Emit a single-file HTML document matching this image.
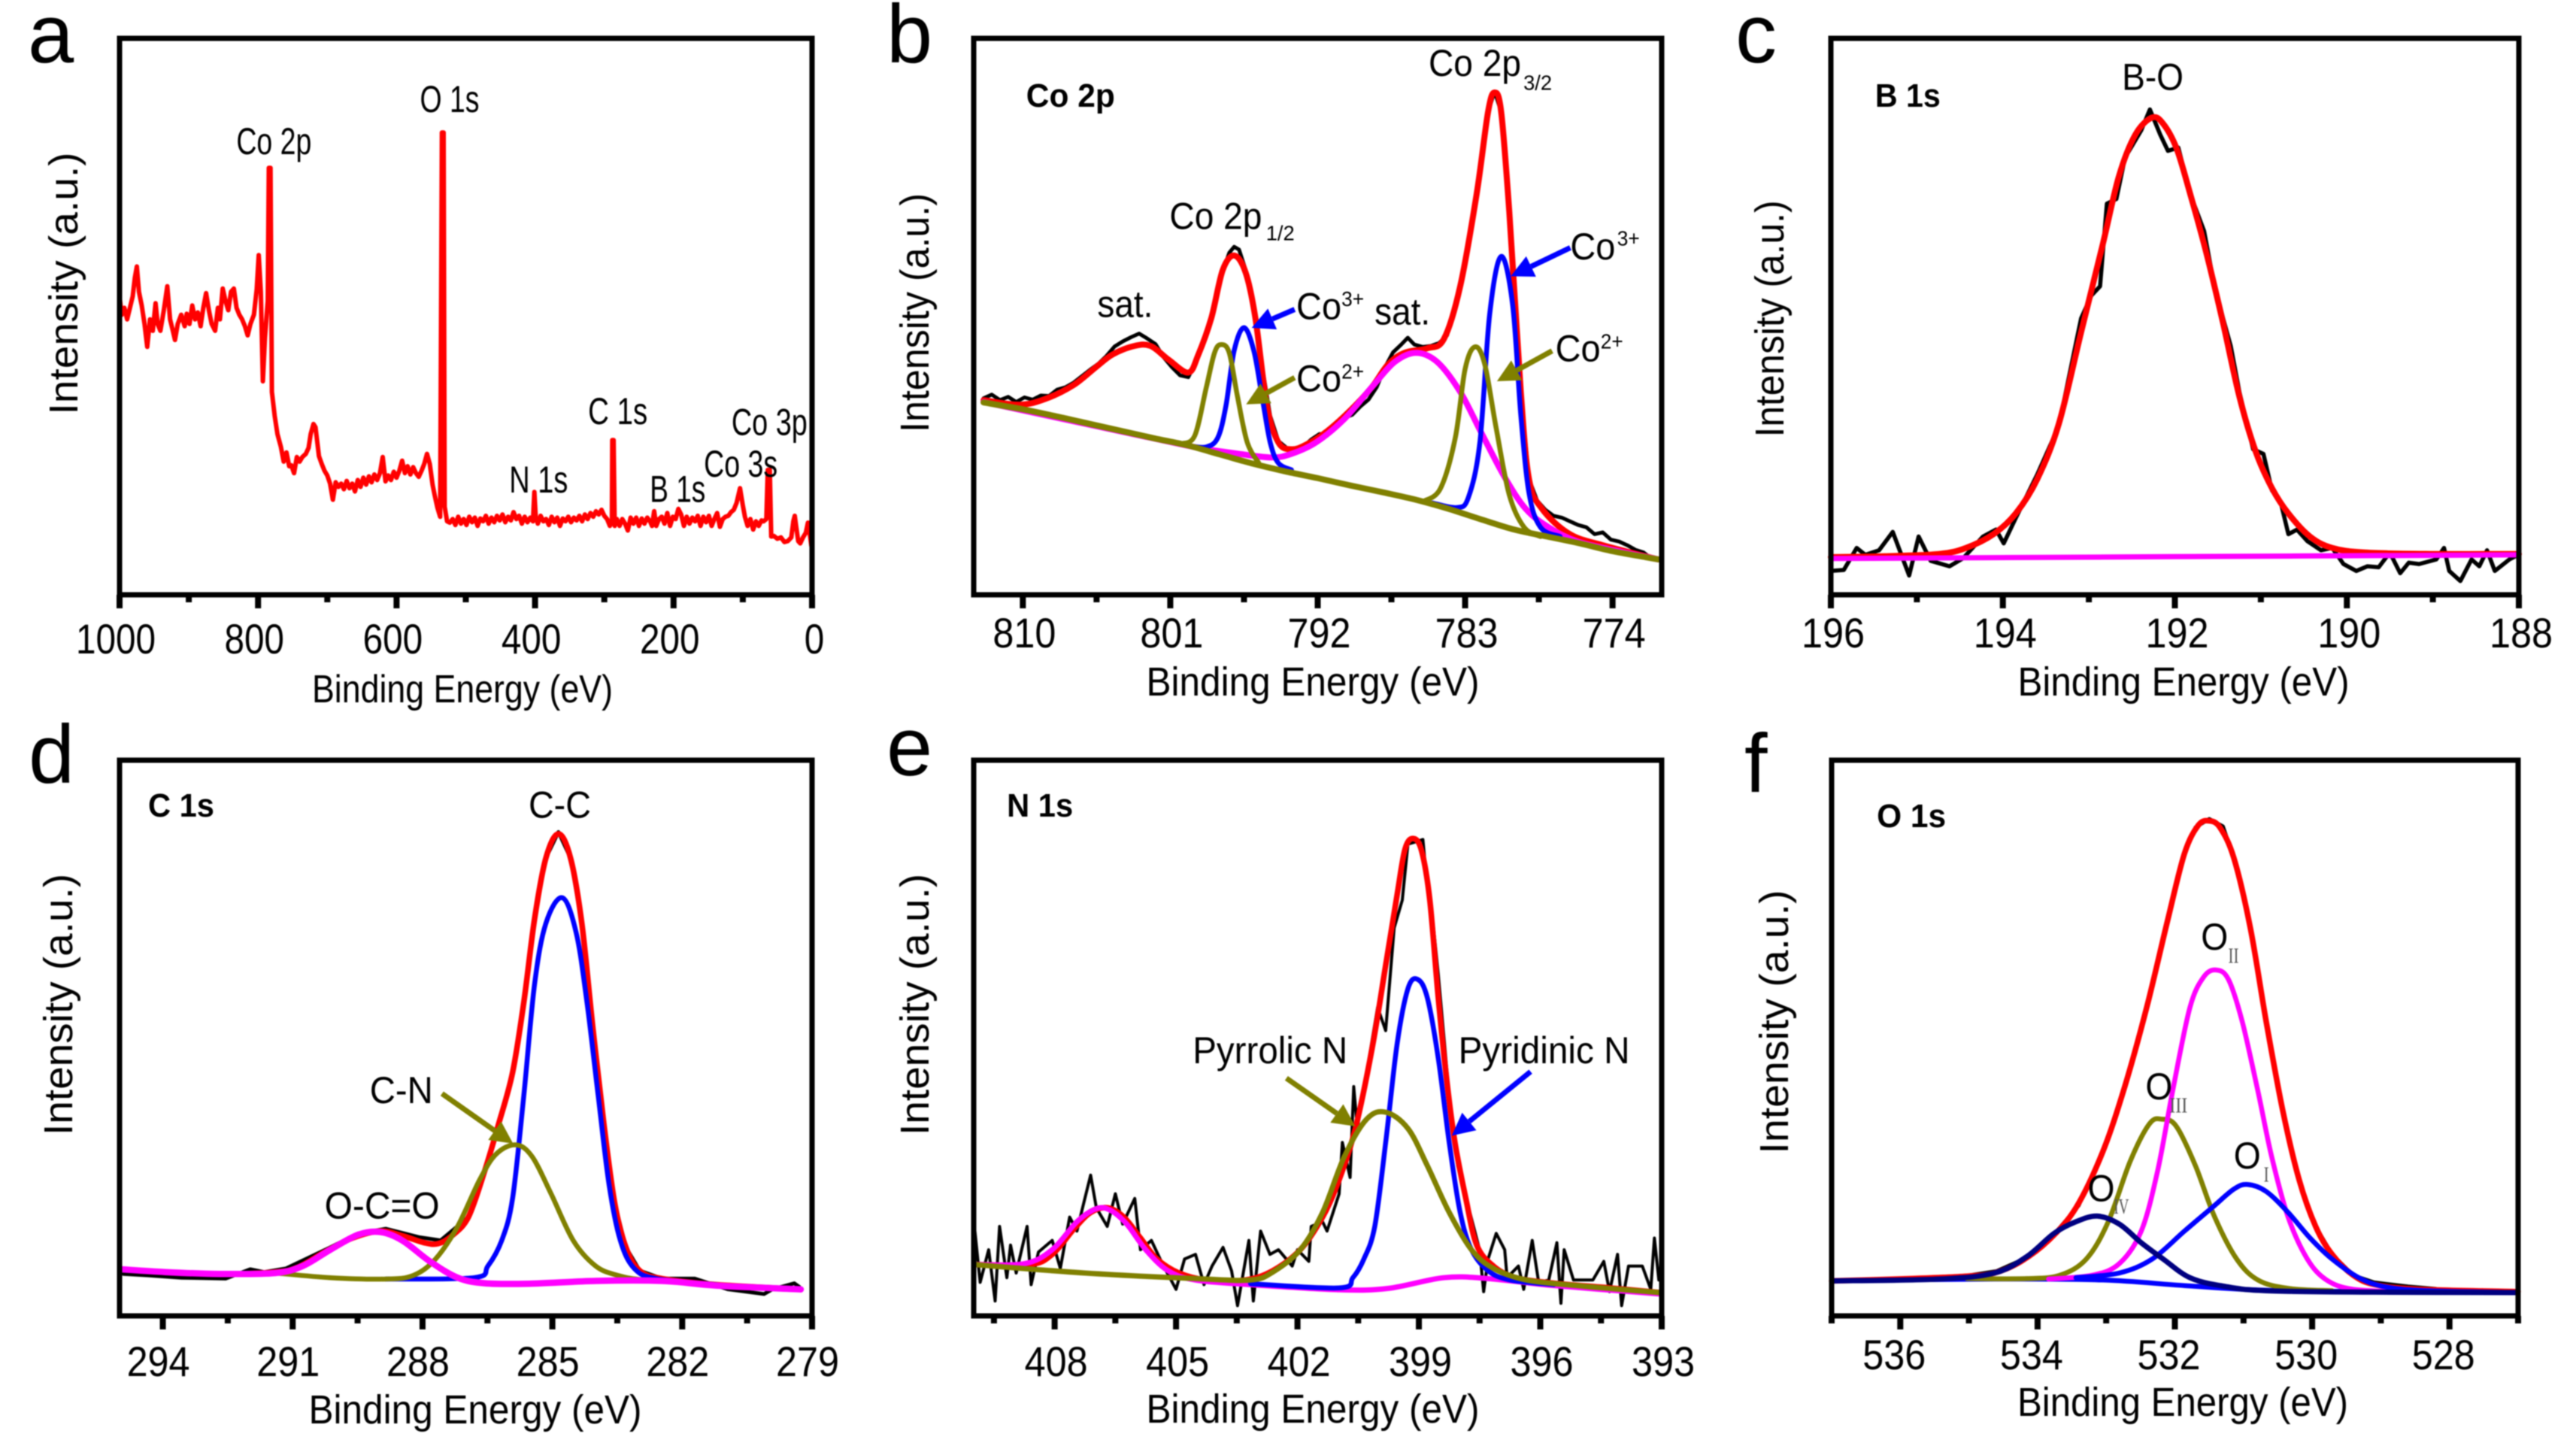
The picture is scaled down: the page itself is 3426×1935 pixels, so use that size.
<!DOCTYPE html>
<html lang="en">
<head>
<meta charset="utf-8">
<title>XPS spectra panels</title>
<style>
html,body{margin:0;padding:0;background:#fff;}
#figure{display:block;width:3426px;height:1935px;filter:blur(0.8px);font-family:"Liberation Sans",Arial,sans-serif;}
text{fill:#000;font-family:"Liberation Sans",Arial,sans-serif;}
</style>
</head>
<body>
<svg id="figure" xmlns="http://www.w3.org/2000/svg" width="3426" height="1935" viewBox="0 0 3426 1935"></svg>
<script>
/* ---------- panel a : survey ---------- */
const aTicks=[1000,800,600,400,200,0];
const aMinor=[900,700,500,300,100];
const aEnergy=[1000,997,993,989,985,981,978,975,972,968,964,960,956,952,948,945,941,936,931,927,923,920,916,911,906,903,899,895,891,887,883,879,875,871,867,862,858,855,851,847,843,839,835,831,827,823,819,815,811,806,802,799,796,793,790,786,784.5,782,780,776,772,767,763,759,755,752,748,744,740,736,731,727,724,720,717,712,708,704,700,696,692,688,684,680,676,672,668,664,660,656,652,648,644,640,636,632,628,624,620,616,612,608,604,600,596,592,588,584,580,576,572,568,564,560,556,552,548,545,541,537,534.5,532,530.5,527,523,519,515,511,507,503,499,495,491,487,483,479,475,471,467,463,459,455,451,447,443,439,435,431,427,423,419,415,411,407,403,401,399,396,392,388,384,380,376,372,368,364,360,356,352,348,344,340,336,332,328,324,320,316,312,308,304,300,296,292,289,288.5,286.5,285,282,278,274,270,266,262,258,254,250,246,242,238,234,231,228,225,221,217,213,209,205,201,197,193,189,185,181,177,173,169,165,161,157,153,149,145,141,137,133,129,125,121,117,113,109,104,100,97,93,89,85,81,77,73,70,66,64,61,59,55,50,45,40,35,30,27,25,23,20,17,13,9,6,3,1];
const aIntensity=[650,610,625,600,625,650,690,715,660,630,590,540,600,575,635,590,575,620,672,600,575,555,590,610,585,612,590,630,600,615,585,625,657,620,590,575,625,600,667,640,620,660,667,625,610,600,585,565,590,610,665,740,660,465,560,640,930,930,442,390,350,322,290,310,280,282,265,300,290,300,307,320,350,372,365,302,285,270,260,242,207,245,235,242,230,248,232,242,225,250,235,255,240,258,245,262,250,265,300,247,260,250,268,255,270,292,265,280,262,278,265,257,270,285,307,285,240,217,190,170,1007,1007,192,160,157,165,152,170,155,165,152,170,158,168,150,166,160,172,155,168,158,172,162,175,158,170,162,180,165,172,155,170,158,168,160,224,170,155,172,160,165,152,170,158,168,150,166,160,170,158,168,162,172,160,175,165,178,170,182,175,185,172,165,150,160,337,337,150,165,150,165,155,140,168,155,168,150,166,155,168,160,150,182,150,165,170,155,178,150,170,165,187,175,150,170,155,168,160,172,150,170,158,172,150,165,178,148,165,170,172,180,185,200,232,195,170,150,165,142,160,150,162,160,165,272,272,127,128,122,125,115,117,125,160,172,150,117,112,125,135,157,130,107];

/* ---------- panel b : Co 2p ---------- */
const bTicks=[810,801,792,783,774];
const bMinor=[805.5,796.5,787.5,778.5];
const bBlackEnergy=[812.4,811.9,811.4,810.9,810.4,809.9,809.4,808.9,808.4,807.9,807.4,806.9,806.4,805.9,805.4,804.9,804.4,803.9,803.4,802.9,802.4,801.9,801.4,800.9,800.4,799.9,799.4,798.9,798.4,797.9,797.4,797.1,796.8,796.4,795.9,795.4,794.9,794.4,793.9,793.4,792.9,792.4,791.9,791.4,790.9,790.4,789.9,789.4,788.9,788.4,787.9,787.4,786.9,786.5,786.1,785.6,785.1,784.6,784.1,783.6,783.1,782.3,781.6,781.2,780.8,780.3,779.6,779.1,778.6,778.1,777.6,777.1,776.6,776.1,775.6,775.1,774.6,774.1,773.6,773.1,772.6,772.1,771.6];
const bBlackIntensity=[428,436,424,431,420,430,425,434,433,447,452,462,476,490,503,520,541,552,561,569,558,546,517,496,478,474,510,560,620,695,745,758,752,708,630,500,390,335,320,315,322,338,350,350,372,385,392,410,425,452,495,528,545,560,545,540,542,548,565,630,700,872,1052,1096,1052,832,442,252,205,185,172,168,160,152,147,132,136,120,116,108,98,92,78];
const bFitEnergy=[812.4,810.2,808.6,806.9,805.5,804.5,803.2,802.2,801.1,799.9,799.3,798.5,797.8,797.1,796.4,795.8,795.1,794.4,793.6,792.7,791.4,790.0,788.7,787.7,786.7,785.3,784.3,783.3,782.3,781.6,781.2,780.8,780.3,779.6,779.1,778.3,776.6,774.5,771.2];
const bFitIntensity=[424,414,427,457,497,524,542,542,512,484,522,602,707,739,702,602,412,332,317,327,357,402,452,502,527,537,557,672,872,1052,1094,1052,832,442,252,187,132,107,77];
const bSatEnergy=[812.4,800.1,798.8,796.8,794.8,793.6,792.1,790.4,788.7,787.3,786.0,784.7,783.3,782.0,780.6,779.3,777.9,776.2,773.9,771.2];
const bSatIntensity=[420,326,317,307,299,307,332,382,452,507,527,507,442,352,257,187,147,117,97,77];
const bCo3aEnergy=[799.8,798.8,798.1,797.6,797.1,796.5,795.9,795.4,794.9,794.4,793.6];
const bCo3aIntensity=[324,322,342,412,532,582,532,432,332,287,272];
const bCo3bEnergy=[785.0,783.5,782.8,782.1,781.5,780.8,780.1,779.6,779.1,778.4,777.2];
const bCo3bIntensity=[200,190,212,332,612,737,632,392,222,147,127];
const bCo2aEnergy=[800.3,799.5,798.8,798.3,797.9,797.4,796.9,796.3,795.6];
const bCo2aIntensity=[329,347,452,527,545,527,432,332,287];
const bCo2bEnergy=[785.5,784.5,783.6,783.0,782.4,781.8,781.1,780.3,779.4,778.4];
const bCo2bIntensity=[204,232,342,492,540,502,362,217,147,127];
const bBaseEnergy=[812.4,810,808,806,804,802,800,798,796,794,792,790,788,786,784,782,780,778,776,774,772,771.2];
const bBaseIntensity=[419,404,389,373,357,341,326,306,286,269,254,238,223,207,187,164,142,127,112,95,82,77];

/* ---------- panel c : B 1s ---------- */
const cTicks=[196,194,192,190,188];
const cMinor=[195,193,191,189];
const cBlackEnergy=[196.00,195.85,195.70,195.60,195.44,195.28,195.09,194.98,194.84,194.62,194.46,194.23,194.08,193.99,193.85,193.60,193.35,193.09,192.97,192.87,192.79,192.68,192.58,192.39,192.29,192.17,192.08,191.96,191.82,191.66,191.57,191.44,191.35,191.25,191.09,190.97,190.87,190.77,190.68,190.58,190.46,190.30,190.17,190.04,189.89,189.76,189.63,189.50,189.38,189.28,189.16,188.96,188.87,188.81,188.68,188.55,188.46,188.37,188.28,188.11,188.01];
const cBlackIntensity=[52,54,102,87,97,137,42,127,74,62,80,127,142,112,167,262,367,602,652,672,852,862,952,1012,1057,1002,967,974,872,792,702,602,542,442,317,307,227,202,132,142,117,97,102,67,52,62,60,92,47,70,67,77,102,52,30,77,62,97,52,77,87];
const cFitEnergy=[196.0,195.38,194.74,194.43,194.11,193.85,193.6,193.35,193.09,192.84,192.65,192.46,192.27,192.14,191.98,191.82,191.63,191.44,191.25,191.06,190.87,190.68,190.43,190.17,189.79,189.03,188.0];
const cFitIntensity=[82,84,89,102,132,177,252,372,572,762,912,1002,1039,1027,972,872,742,592,432,312,232,177,127,102,92,89,89];
const cBaseEnergy=[196,192,188];
const cBaseIntensity=[79,83,87];

/* ---------- panel d : C 1s ---------- */
const dTicks=[294,291,288,285,282,279];
const dMinor=[292.5,289.5,286.5,283.5,280.5];
const dBlackEnergy=[294.91,294.34,293.57,292.55,291.98,291.66,291.15,290.13,289.49,288.85,288.09,287.58,286.94,286.56,286.24,285.92,285.66,285.41,285.15,284.86,284.58,284.32,284.07,283.81,283.56,283.30,282.98,282.47,281.71,280.94,280.11,279.92,279.41,279.29];
const dBlackIntensity=[90,87,82,80,100,94,102,147,177,187,169,162,212,312,412,522,672,852,982,1038,982,842,622,412,242,147,97,80,80,57,47,57,70,62];
const dFitEnergy=[294.97,293.95,292.68,291.40,290.89,290.26,289.62,288.98,288.47,287.96,287.64,287.32,286.94,286.56,286.24,285.92,285.66,285.41,285.15,284.86,284.58,284.32,284.07,283.81,283.56,283.30,282.98,282.47,281.20,279.26];
const dFitIntensity=[100,94,90,94,104,137,167,182,172,157,155,172,212,312,412,522,672,852,982,1034,982,842,622,412,242,147,97,80,67,57];
const dCCEnergy=[288.85,286.81,286.49,286.17,285.92,285.66,285.41,285.15,284.77,284.45,284.20,283.94,283.69,283.43,283.11,282.60,281.20];
const dCCIntensity=[79,82,107,162,252,472,712,842,897,822,672,472,282,162,102,80,67];
const dCNEnergy=[291.40,290.13,288.85,288.21,287.70,287.19,286.68,286.30,285.85,285.47,285.03,284.52,284.00,283.49,282.86,281.20];
const dCNIntensity=[92,82,79,87,122,192,292,347,367,342,262,162,107,87,77,67];
const dOCOEnergy=[294.97,293.95,292.68,291.40,290.77,290.13,289.49,288.98,288.47,287.83,287.19,286.56,285.54,284.00,282.47,281.20,279.26];
const dOCOIntensity=[100,94,90,92,107,142,174,180,162,117,82,70,69,75,75,65,57];

/* ---------- panel e : N 1s ---------- */
const eTicks=[408,405,402,399,396,393];
const eMinor=[409.5,406.5,403.5,400.5,397.5,394.5];
const eBlackEnergy=[409.97,409.84,409.63,409.47,409.36,409.18,409.09,408.95,408.68,408.58,408.40,408.06,407.86,407.63,407.45,407.31,407.11,406.97,406.70,406.50,406.32,406.02,405.88,405.61,405.34,405.00,404.79,404.52,404.31,404.11,403.84,403.63,403.48,403.36,403.20,403.09,402.91,402.68,402.47,402.13,402.00,401.72,401.66,401.38,401.27,400.97,400.89,400.70,400.61,400.52,400.02,399.82,399.61,399.41,399.27,399.07,398.90,398.77,398.66,398.52,398.25,398.04,397.77,397.50,397.40,397.29,397.09,396.88,396.82,396.54,396.41,396.20,396.04,395.79,395.59,395.49,395.41,395.18,394.70,394.43,394.29,394.09,393.99,393.82,393.48,393.27,393.18,393.07];
const eBlackIntensity=[182,72,142,32,192,82,152,92,192,67,137,162,102,212,182,232,302,232,192,262,197,252,142,162,112,57,122,132,67,107,147,97,22,82,162,32,182,132,142,107,142,117,192,202,182,262,372,297,492,402,662,612,832,892,1012,1017,1022,902,852,732,472,322,232,142,52,122,177,142,82,107,57,162,72,77,157,27,142,77,77,117,52,132,22,107,107,57,167,77];
const eFitEnergy=[409.97,408.61,408.06,407.52,407.11,406.70,406.29,405.88,405.47,404.93,404.25,403.29,402.61,401.93,401.38,400.97,400.57,400.16,399.82,399.54,399.34,399.13,398.93,398.73,398.52,398.32,398.11,397.84,397.57,397.16,396.61,395.66,394.29,393.04];
const eFitIntensity=[110,110,132,187,222,232,212,167,122,92,77,77,97,142,212,292,402,572,752,902,1002,1024,997,892,682,512,372,252,152,107,82,70,60,50];
const ePyridinicEnergy=[403.16,400.97,400.63,400.36,400.09,399.82,399.54,399.27,399.03,398.79,398.52,398.25,397.98,397.70,397.29,396.75,395.66];
const ePyridinicIntensity=[69,60,82,122,192,372,582,702,722,682,552,372,222,142,97,77,67];
const ePyrrolicEnergy=[409.97,407.25,404.52,403.16,402.61,401.93,401.38,400.84,400.29,399.82,399.27,398.79,398.25,397.70,397.16,396.34,394.98,393.04];
const ePyrrolicIntensity=[110,92,80,77,94,142,222,342,422,437,402,322,222,142,102,77,64,50];
const eOtherEnergy=[409.97,408.75,408.06,407.45,406.97,406.63,406.22,405.75,405.20,404.52,403.16,400.97,399.75,398.38,397.29,395.66,393.04];
const eOtherIntensity=[110,112,142,202,230,227,197,142,97,77,67,56,59,82,80,65,47];

/* ---------- panel f : O 1s ---------- */
const fTicks=[536,534,532,530,528];
const fMinor=[537,535,533,531,529,527];
const fBlackEnergy=[535.0,534.6,534.2,533.8,533.4,533.05,532.73,532.41,532.10,531.86,531.7,531.5,531.3,531.14,530.90,530.67,530.43,530.19,529.95,529.71,529.40,529.1,528.6,528.2];
const fBlackIntensity=[87,96,122,168,237,352,492,662,852,992,1048,1066,1050,982,832,632,442,292,192,132,87,72,63,58];
const fFitEnergy=[537,535.83,535.03,534.63,534.24,533.84,533.44,533.05,532.73,532.41,532.10,531.86,531.66,531.50,531.34,531.14,530.90,530.67,530.43,530.19,529.95,529.71,529.40,529.08,528.44,527.00];
const fFitIntensity=[75,80,85,92,117,162,232,352,492,662,852,992,1052,1062,1047,982,832,632,442,292,192,132,87,67,57,52];
const fBaseEnergy=[537,534.63,533.05,531.86,530.67,529.08,527];
const fBaseIntensity=[75,79,77,65,55,52,50];
const fO3Energy=[535.03,534.16,533.68,533.29,532.97,532.65,532.37,532.19,531.98,531.70,531.42,531.10,530.79,530.35,529.71];
const fO3Intensity=[80,80,87,122,202,332,412,422,407,322,212,122,77,59,54];
const fO2Energy=[533.84,533.21,532.81,532.49,532.25,532.02,531.78,531.58,531.40,531.22,531.02,530.79,530.59,530.35,530.07,529.79,529.40,528.68];
const fO2Intensity=[79,87,112,182,312,492,662,727,742,722,632,482,342,212,122,77,57,52];
const fO1Energy=[533.44,532.81,532.33,531.86,531.46,531.14,530.94,530.67,530.35,530.03,529.71,529.32,528.92,528.29,527];
const fO1Intensity=[82,92,122,182,232,272,282,267,222,167,122,82,62,54,50];
const fO4Energy=[537,535.43,534.63,534.16,533.76,533.44,533.13,532.81,532.49,532.17,531.78,531.30,530.67,529.08,527];
const fO4Intensity=[75,79,92,127,177,202,214,197,157,122,82,64,54,51,50];

/* ---------- colours ---------- */
const RED='#ff0000',BLUE='#0000ff',MAG='#ff00ff',OLV='#808000',NAVY='#000080',INK='#000000';
const NS='http://www.w3.org/2000/svg';
const fig=document.getElementById('figure');

const panels=[
{id:'a',letter:'a',lx:37,ly:83,left:159,right:1080,top:51,bottom:791,dom:[1000,0],yMax:1212,
 crop:[-1,0,1.3637,1.633],ticks:aTicks,minor:aMinor,tickDx:-5,digitW:26.5,tickBase:869,
 xCx:615,xLen:400,xBase:934,xSize:52,yBase:103,yCy:377,yLen:349,
 series:[['survey-spectrum',aEnergy,aIntensity,RED,6,false]]},
{id:'b',letter:'b',lx:1179,ly:83,left:1295,right:2210,top:51,bottom:791,dom:[813,771],yMax:1212,
 crop:[1150,0,1.364,1.633],ticks:bTicks,minor:bMinor,tickDx:2,digitW:28,tickBase:861,
 xCx:1746,xLen:443,xBase:925,xSize:54,yBase:1235,yCy:416,yLen:318,
 series:[['co2p-raw-trace',bBlackEnergy,bBlackIntensity,'#000',5,false],
  ['co2p-envelope-fit',bFitEnergy,bFitIntensity,RED,8,true],
  ['co2p-satellite-component',bSatEnergy,bSatIntensity,MAG,8,true],
  ['co3-2p12-component',bCo3aEnergy,bCo3aIntensity,BLUE,6.5,true],
  ['co3-2p32-component',bCo3bEnergy,bCo3bIntensity,BLUE,6.5,true],
  ['co2-2p12-component',bCo2aEnergy,bCo2aIntensity,OLV,6.5,true],
  ['co2-2p32-component',bCo2bEnergy,bCo2bIntensity,OLV,6.5,true],
  ['co2p-background',bBaseEnergy,bBaseIntensity,OLV,8,true]]},
{id:'c',letter:'c',lx:2308,ly:83,left:2435,right:3350,top:51,bottom:791,dom:[196,188],yMax:1212,
 crop:[2288.3,0,1.377,1.633],ticks:cTicks,minor:cMinor,tickDx:3,digitW:28,tickBase:861,
 xCx:2904,xLen:441,xBase:925,xSize:54,yBase:2372,yCy:424,yLen:315,
 series:[['b1s-raw-trace',cBlackEnergy,cBlackIntensity,'#000',5.5,false],
  ['b1s-envelope-fit',cFitEnergy,cFitIntensity,RED,8,true],
  ['b1s-background',cBaseEnergy,cBaseIntensity,MAG,7,true]]},
{id:'d',letter:'d',lx:38,ly:1041,left:159,right:1080,top:1011,bottom:1750,dom:[295,279],yMax:1192,
 crop:[-1,960,1.3637,1.608],ticks:dTicks,minor:dMinor,tickDx:-6,digitW:28,tickBase:1830,
 xCx:632,xLen:443,xBase:1893,xSize:54,yBase:96,yCy:1336,yLen:348,
 series:[['c1s-raw-trace',dBlackEnergy,dBlackIntensity,'#000',5,false],
  ['c1s-envelope-fit',dFitEnergy,dFitIntensity,RED,7.5,true],
  ['c-c-component',dCCEnergy,dCCIntensity,BLUE,6.5,true],
  ['c-n-component',dCNEnergy,dCNIntensity,OLV,6.5,true],
  ['o-c-o-component',dOCOEnergy,dOCOIntensity,MAG,8.5,true]]},
{id:'e',letter:'e',lx:1179,ly:1031,left:1295,right:2210,top:1011,bottom:1750,dom:[410,393],yMax:1192,
 crop:[1150,960,1.364,1.608],ticks:eTicks,minor:eMinor,tickDx:2,digitW:28,tickBase:1830,
 xCx:1746,xLen:443,xBase:1892,xSize:54,yBase:1235,yCy:1336,yLen:348,
 series:[['n1s-raw-trace',eBlackEnergy,eBlackIntensity,'#000',4,false],
  ['n1s-envelope-fit',eFitEnergy,eFitIntensity,RED,7.5,true],
  ['n1s-extra-component',eOtherEnergy,eOtherIntensity,MAG,7,true],
  ['pyridinic-n-component',ePyridinicEnergy,ePyridinicIntensity,BLUE,6.5,true],
  ['pyrrolic-n-component',ePyrrolicEnergy,ePyrrolicIntensity,OLV,7,true]]},
{id:'f',letter:'f',lx:2320,ly:1053,left:2436,right:3349,top:1011,bottom:1750,dom:[537,527],yMax:1192,
 crop:[2289.6,960,1.38,1.608],ticks:fTicks,minor:fMinor,tickDx:-8,digitW:28,tickBase:1821,
 xCx:2903,xLen:440,xBase:1883,xSize:54,yBase:2378,yCy:1359,yLen:351,
 series:[['o1s-raw-trace',fBlackEnergy,fBlackIntensity,'#000',5,false],
  ['o1s-envelope-fit',fFitEnergy,fFitIntensity,RED,7.5,true],
  ['o1s-background',fBaseEnergy,fBaseIntensity,BLUE,6.5,true],
  ['o-iii-component',fO3Energy,fO3Intensity,OLV,6.5,true],
  ['o-ii-component',fO2Energy,fO2Intensity,MAG,6.5,true],
  ['o-i-component',fO1Energy,fO1Intensity,BLUE,6.5,true],
  ['o-iv-component',fO4Energy,fO4Intensity,NAVY,7,true]]}
];

/* text annotations: panel, text, x, y, size, bold, squeezed width, colour, family */
const notes=[
['a','Co 2p',430,335,50,0,100],['a','O 1s',763,243,50,0,79],['a','C 1s',1068,921,50,0,79],
['a','N 1s',925,1070,50,0,78],['a','B 1s',1180,1090,50,0,74],['a','Co 3s',1278,1035,50,0,98],['a','Co 3p',1328,945,50,0,101],
['b','Co 2p',293,232,44,1,118],['b','Co 2p',1023,165,50,0,123],['b','3/2',1195,195,28,0,38],
['b','Co 2p',553,497,50,0,123],['b','1/2',728,522,28,0,38],['b','sat.',422,688,50,0,74],['b','sat.',925,705,50,0,74],
['b','Co',783,693,50,0,60],['b','3+',865,665,28,0,30],['b','Co',1280,563,50,0,60],['b','3+',1365,533,28,0,30],
['b','Co',783,850,50,0,60],['b','2+',865,822,28,0,30],['b','Co',1253,785,50,0,60],['b','2+',1335,757,28,0,30],
['c','B 1s',283,232,44,1,87],['c','B-O',735,195,50,0,82],
['d','C 1s',270,203,44,1,88],['d','C-C',960,205,50,0,83],['d','C-N',672,815,50,0,84],['d','O-C=O',590,1062,50,0,153],
['e','N 1s',258,203,44,1,88],['e','Pyrrolic N',595,730,50,0,206],['e','Pyridinic N',1077,730,50,0,228],
['f','O 1s',285,225,44,1,92],
['f','O',880,487,50,0,36],['f','II',930,515,28,0,14,'#555','"Liberation Serif",serif'],
['f','O',778,807,50,0,36],['f','III',822,835,28,0,24,'#555','"Liberation Serif",serif'],
['f','O',940,955,50,0,36],['f','I',995,983,28,0,7,'#555','"Liberation Serif",serif'],
['f','O',672,1025,50,0,36],['f','IV',720,1052,28,0,20,'#555','"Liberation Serif",serif']
];

/* arrows: panel, colour, from x, from y, to x, to y */
const arrows=[
['b',BLUE,780,672,702,712],['b',BLUE,1280,538,1172,600],
['b',OLV,780,820,692,878],['b',OLV,1247,762,1147,828],
['d',OLV,803,795,932,902],
['e',OLV,765,762,890,865],['e',BLUE,1208,748,1065,885]
];

function mk(tag,parent,attrs){
  const el=document.createElementNS(NS,tag);
  for(const k in attrs)el.setAttribute(k,attrs[k]);
  parent.appendChild(el);
  return el;
}
function smooth(pts){
  let d='M'+pts[0][0].toFixed(1)+' '+pts[0][1].toFixed(1);
  for(let i=0;i<pts.length-1;i++){
    const p0=pts[Math.max(i-1,0)],p1=pts[i],p2=pts[i+1],p3=pts[Math.min(i+2,pts.length-1)];
    const c1x=p1[0]+(p2[0]-p0[0])/6,c1y=p1[1]+(p2[1]-p0[1])/6;
    const c2x=p2[0]-(p3[0]-p1[0])/6,c2y=p2[1]-(p3[1]-p1[1])/6;
    d+='C'+c1x.toFixed(1)+' '+c1y.toFixed(1)+' '+c2x.toFixed(1)+' '+c2y.toFixed(1)+' '+p2[0].toFixed(1)+' '+p2[1].toFixed(1);
  }
  return d;
}
function jagged(pts){
  return pts.map((p,i)=>(i?'L':'M')+p[0].toFixed(1)+' '+p[1].toFixed(1)).join('');
}
const byId={};
panels.forEach(p=>{
  byId[p.id]=p;
  const g=mk('g',fig,{});
  
  
  const xs=v=>p.left+(v-p.dom[0])/(p.dom[1]-p.dom[0])*(p.right-p.left);
  const ys=v=>p.bottom-v/p.yMax*(p.bottom-p.top);
  p.g=g;

  p.series.forEach(s=>{
    const pts=s[1].slice(0,Math.min(s[1].length,s[2].length)).map((e,i)=>[xs(e),ys(s[2][i])]);
    const path=mk('path',g,{d:s[5]?smooth(pts):jagged(pts),fill:'none',stroke:s[3],'stroke-width':s[4],'stroke-linejoin':'round','stroke-linecap':'round'});
    
    
  });

  const frame=mk('rect',g,{x:p.left,y:p.top,width:p.right-p.left,height:p.bottom-p.top,fill:'none',stroke:INK,'stroke-width':7});
  
  

  p.ticks.forEach(v=>{
    const t=mk('line',g,{x1:xs(v),x2:xs(v),y1:p.bottom,y2:p.bottom+18,stroke:INK,'stroke-width':8});
    
    
    const label=String(v);
    const lx=xs(v)+p.tickDx+(label.length===1?8:0);
    const l=mk('text',g,{x:lx,y:p.tickBase,'text-anchor':'middle','font-size':56,textLength:label.length*p.digitW,lengthAdjust:'spacingAndGlyphs'});
    l.textContent=label;
    
    
  });
  p.minor.forEach(v=>{
    const t=mk('line',g,{x1:xs(v),x2:xs(v),y1:p.bottom,y2:p.bottom+10,stroke:INK,'stroke-width':8});
    
    
  });

  const xt=mk('text',g,{x:p.xCx,y:p.xBase,'text-anchor':'middle','font-size':p.xSize,textLength:p.xLen,lengthAdjust:'spacingAndGlyphs'});
  xt.textContent='Binding Energy (eV)';
  
  

  const yt=mk('text',g,{x:0,y:0,'text-anchor':'middle','font-size':54,textLength:p.yLen,lengthAdjust:'spacingAndGlyphs',transform:'translate('+p.yBase+' '+p.yCy+') rotate(-90)'});
  yt.textContent='Intensity (a.u.)';
  
  

  const lt=mk('text',g,{x:p.lx,y:p.ly,'font-size':110});
  lt.textContent=p.letter;
  
  
});

notes.forEach(n=>{
  const p=byId[n[0]],c=p.crop;
  const attrs={x:c[0]+n[2]/c[2],y:c[1]+n[3]/c[3],'font-size':n[4],textLength:n[6],lengthAdjust:'spacingAndGlyphs'};
  if(n[5])attrs['font-weight']='bold';
  if(n[7])attrs.style='fill:'+n[7]+';font-family:'+n[8];
  const t=mk('text',p.g,attrs);
  t.textContent=n[1];
  
  
});

arrows.forEach(a=>{
  const p=byId[a[0]],c=p.crop;
  const x1=c[0]+a[2]/c[2],y1=c[1]+a[3]/c[3],x2=c[0]+a[4]/c[2],y2=c[1]+a[5]/c[3];
  const L=Math.hypot(x2-x1,y2-y1),ux=(x2-x1)/L,uy=(y2-y1)/L,hl=30,hw=15;
  const bx=x2-ux*hl,by=y2-uy*hl;
  const g=mk('g',p.g,{});
  
  
  mk('line',g,{x1:x1,y1:y1,x2:bx,y2:by,stroke:a[1],'stroke-width':7});
  mk('polygon',g,{points:[x2,y2,bx-uy*hw,by+ux*hw,bx+uy*hw,by-ux*hw].map(v=>v.toFixed(1)).join(' '),fill:a[1]});
});
</script>
</body>
</html>
